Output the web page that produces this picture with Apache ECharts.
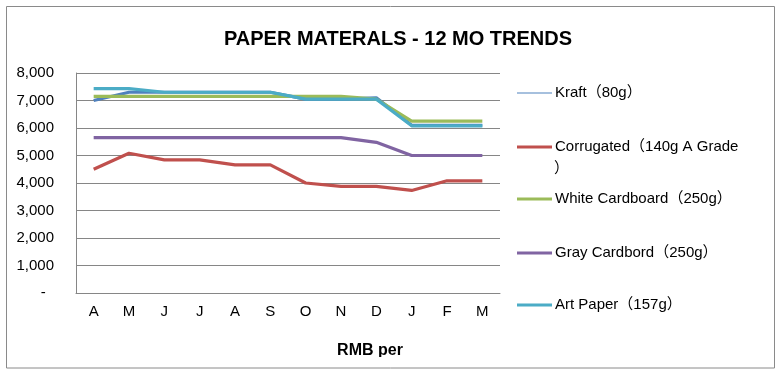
<!DOCTYPE html>
<html>
<head>
<meta charset="utf-8">
<script src="https://cdn.jsdelivr.net/npm/echarts@6/dist/echarts.min.js"></script>
<style>
html,body{margin:0;padding:0;background:#fff;}
#chart{width:777px;height:375px;}
</style>
</head>
<body>
<div id="chart"></div>
<script>
const categories = ['A','M','J','J','A','S','O','N','D','J','F','M'];
const seriesNames = ['Kraft（80g）','Corrugated（140g A Grade）','White Cardboard（250g）','Gray Cardbord（250g）','Art Paper（157g）'];
const kraft      = [7000,7300,7300,7300,7300,7300,7050,7050,7100,6100,6100,6100];
const corrugated = [4500,5080,4840,4840,4660,4660,4000,3880,3880,3730,4080,4080];
const whiteCard  = [7150,7150,7150,7150,7150,7150,7150,7150,7050,6250,6250,6250];
const grayCard   = [5650,5650,5650,5650,5650,5650,5650,5650,5480,5000,5000,5000];
const artPaper   = [7430,7430,7300,7300,7300,7300,7050,7050,7050,6080,6080,6080];
const title = 'PAPER MATERALS - 12 MO TRENDS';
const xAxisTitle = 'RMB per';

const values = [kraft, corrugated, whiteCard, grayCard, artPaper];
const colors = ['#4F81BD','#C0504D','#9BBB59','#8064A2','#4BACC6'];
const legendTops = [85, 139, 191, 245, 297];
const legendLineW = [1, 3, 3, 3, 3];
const FONT = '"Liberation Sans", Arial, "Noto Sans CJK SC", sans-serif';

const chart = echarts.init(document.getElementById('chart'), null, {renderer:'canvas'});
chart.setOption({
  animation: false,
  backgroundColor: '#fff',
  title: {
    text: title, left: 393, top: 24, textAlign: 'center',
    textStyle: {fontFamily: FONT, fontSize: 20, fontWeight: 'bold', color: '#000'}
  },
  grid: {left: 76, right: 277, top: 73, bottom: 82, containLabel: false},
  xAxis: {
    type: 'category', data: categories, boundaryGap: true,
    axisLine: {show: true, lineStyle: {color: '#868686', width: 1}},
    axisTick: {show: false},
    axisLabel: {margin: 11, fontFamily: FONT, fontSize: 15, color: '#000', interval: 0}
  },
  yAxis: {
    type: 'value', min: 0, max: 8000, interval: 1000,
    axisLine: {show: true, lineStyle: {color: '#868686', width: 1}},
    axisTick: {show: false},
    splitLine: {show: true, lineStyle: {color: '#868686', width: 1}},
    axisLabel: {
      margin: 22, fontFamily: FONT, fontSize: 15, color: '#000',
      formatter: v => v === 0 ? '-  ' : v.toLocaleString('en-US')
    }
  },
  legend: seriesNames.map((n, i) => ({
    data: [{name: n, icon: 'rect'}], orient: 'horizontal', left: 517, top: legendTops[i], padding: 0,
    itemWidth: 35, itemHeight: legendLineW[i], itemGap: 3, selectedMode: false,
    itemStyle: {color: colors[i], borderWidth: 0},
    formatter: name => name === 'Corrugated（140g A Grade）' ? 'Corrugated（140g A Grade' : name,
    textStyle: {fontFamily: FONT, fontSize: 15, color: '#000', lineHeight: 16, padding: [0,0,0,-2]}
  })),
  series: seriesNames.map((n, i) => ({
    name: n, type: 'line', data: values[i], symbol: 'none', smooth: false,
    color: colors[i],
    lineStyle: {color: colors[i], width: 3.2}
  })),
  graphic: [
    {type: 'rect', shape: {x: 6.5, y: 6.5, width: 768, height: 361.5},
     style: {fill: 'none', stroke: '#8a8a8a', lineWidth: 1}, z: 0},
    {type: 'text', left: 554, top: 161,
     style: {text: '）', font: '15px ' + FONT, fill: '#000'}},
    {type: 'text', x: 370, y: 351, z: 10,
     style: {text: xAxisTitle, font: 'bold 16px ' + FONT, fill: '#000', align: 'center', verticalAlign: 'middle'}},
    {type: 'rect', shape: {x: 320, y: 357, width: 100, height: 10}, z: 20,
     style: {fill: '#fff', stroke: 'none'}}
  ]
});
</script>
</body>
</html>
